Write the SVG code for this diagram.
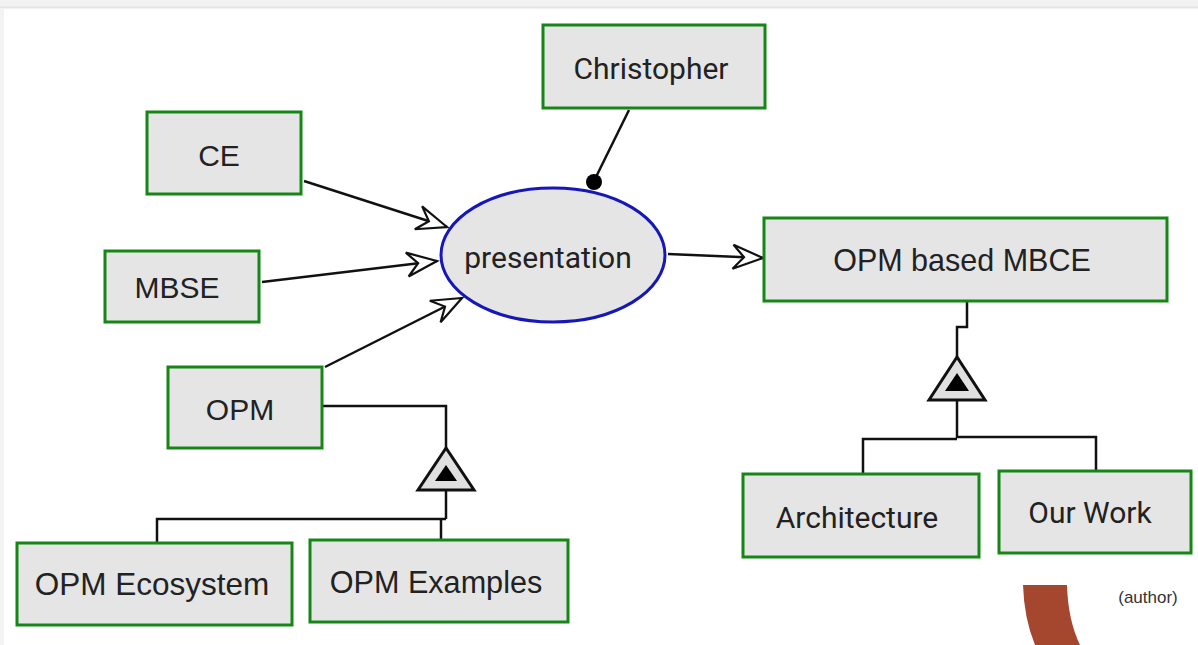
<svg xmlns="http://www.w3.org/2000/svg" width="1198" height="645" viewBox="0 0 1198 645">
  <style>
    .box { fill: #e5e5e5; stroke: #168716; stroke-width: 3; }
    .proc { fill: #e5e5e5; stroke: #1717b8; stroke-width: 3; }
    .lbl { font-family: "Liberation Sans", Arial, sans-serif; font-size: 30px; fill: #222; text-anchor: middle; }
    .lbl2 { font-family: Roboto, "Liberation Sans", sans-serif; font-size: 30px; fill: #222; text-anchor: middle; }
    .link { stroke: #111; stroke-width: 2.5; fill: none; }
    .tri { fill: #e0e0e0; stroke: #111; stroke-width: 3; stroke-linejoin: miter; }
    .tri-in { fill: #000; }
  </style>
  <defs>
    <marker id="open-arrow" markerUnits="userSpaceOnUse" viewBox="-33 -15 36 30" refX="0" refY="0" markerWidth="36" markerHeight="30" orient="auto">
      <path d="M0,0 L-30,-12 L-19,0 L-30,12 Z" fill="#fff" stroke="#111" stroke-width="2.2" stroke-linejoin="miter"/>
    </marker>
  </defs>

  <!-- page frame -->
  <rect x="0" y="0" width="1198" height="645" fill="#fff"/>
  <rect x="0" y="0" width="1198" height="7" fill="#f1f1f1"/>
  <line x1="0" y1="7.5" x2="1198" y2="7.5" stroke="#e4e4e4" stroke-width="2"/>
  <rect x="0" y="8" width="4" height="637" fill="#f3f3f3"/>

  <!-- connectors -->
  <g id="connectors">
    <line class="link" x1="304" y1="181" x2="447" y2="227" marker-end="url(#open-arrow)"/>
    <line class="link" x1="262" y1="282" x2="437" y2="261" marker-end="url(#open-arrow)"/>
    <line class="link" x1="325" y1="367" x2="462" y2="298" marker-end="url(#open-arrow)"/>
    <line class="link" x1="668" y1="254" x2="763" y2="258" marker-end="url(#open-arrow)"/>
    <!-- agent link -->
    <line class="link" x1="629" y1="110" x2="594" y2="181"/>
    <circle cx="594" cy="182" r="8" fill="#000"/>

    <!-- OPM aggregation -->
    <polyline class="link" points="322,406 446,406 446,449"/>
    <polyline class="link" points="446,490 446,519"/>
    <polyline class="link" points="157,543 157,519 446,519"/>
    <line class="link" x1="441" y1="519" x2="441" y2="541"/>
    <polygon class="tri" points="446,448 418,490 474,490"/>
    <polygon class="tri-in" points="446,465 435,481 457,481"/>

    <!-- OPM based MBCE aggregation -->
    <polyline class="link" points="967,302 967,327 957,327 957,358"/>
    <polyline class="link" points="957,400 957,438"/>
    <polyline class="link" points="863,475 863,439 957,439"/>
    <polyline class="link" points="957,437 1096,437 1096,472"/>
    <polygon class="tri" points="957,357 929,400 985,400"/>
    <polygon class="tri-in" points="957,373 945,391 969,391"/>
  </g>

  <!-- nodes -->
  <g id="christopher">
    <rect class="box" x="543" y="25" width="222" height="83"/>
    <text class="lbl2" x="651" y="79">Christopher</text>
  </g>
  <g id="ce">
    <rect class="box" x="147" y="112" width="154" height="82"/>
    <text class="lbl" x="219" y="166">CE</text>
  </g>
  <g id="mbse">
    <rect class="box" x="105" y="251" width="154" height="71"/>
    <text class="lbl" x="177" y="298">MBSE</text>
  </g>
  <g id="opm">
    <rect class="box" x="168" y="367" width="154" height="81"/>
    <text class="lbl" x="240" y="420">OPM</text>
  </g>
  <g id="presentation">
    <ellipse class="proc" cx="553" cy="255" rx="112" ry="67"/>
    <text class="lbl2" x="548" y="268">presentation</text>
  </g>
  <g id="opm-based-mbce">
    <rect class="box" x="764" y="218" width="403" height="83"/>
    <text class="lbl" x="962" y="271" style="font-size:30.5px">OPM based MBCE</text>
  </g>
  <g id="opm-ecosystem">
    <rect class="box" x="17" y="543" width="275" height="82"/>
    <text class="lbl" x="152" y="595" style="font-size:31.5px">OPM Ecosystem</text>
  </g>
  <g id="opm-examples">
    <rect class="box" x="310" y="540" width="258" height="82"/>
    <text class="lbl" x="436" y="593" style="font-size:30.6px">OPM Examples</text>
  </g>
  <g id="architecture">
    <rect class="box" x="743" y="474" width="236" height="83"/>
    <text class="lbl2" x="857" y="528">Architecture</text>
  </g>
  <g id="our-work">
    <rect class="box" x="999" y="471" width="192" height="82"/>
    <text class="lbl2" x="1090" y="523">Our Work</text>
  </g>

  <!-- slide decoration and credit -->
  <path d="M1023,585 L1067,585 Q1068,620 1080,645 L1035,645 Q1024,618 1023,585 Z" fill="#a5472f"/>
  <text x="1148" y="603" font-family="Liberation Sans, Arial, sans-serif" font-size="17" fill="#333" text-anchor="middle">(author)</text>
</svg>
